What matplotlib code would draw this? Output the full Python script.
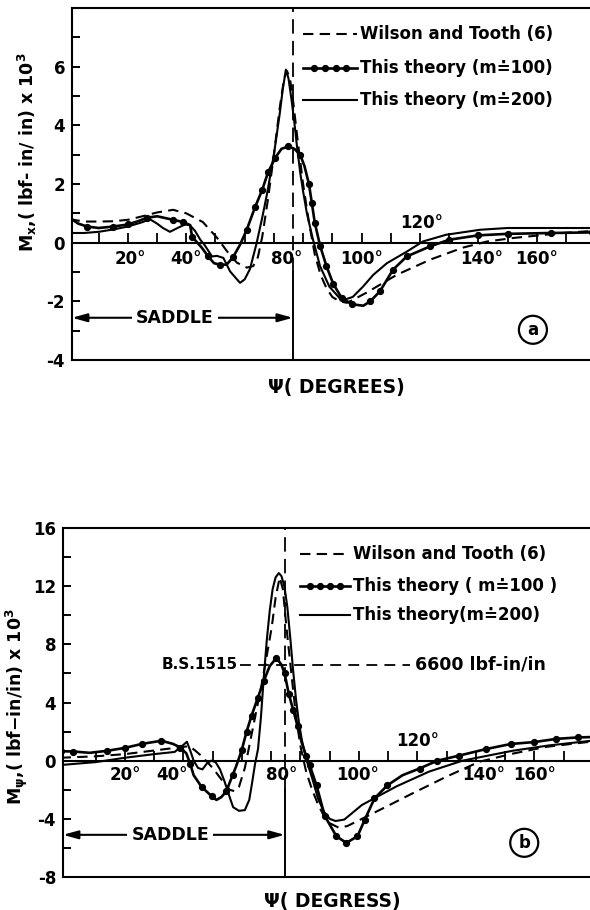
import matplotlib
matplotlib.use('Agg')
import matplotlib.pyplot as plt
import numpy as np

plt.rcParams['font.family'] = ['DejaVu Sans']
plt.rcParams['font.weight'] = 'bold'
plt.rcParams['mathtext.fontset'] = 'custom'
plt.rcParams['mathtext.rm'] = 'DejaVu Sans:bold'
plt.rcParams['mathtext.it'] = 'DejaVu Sans:bold'
plt.rcParams['mathtext.bf'] = 'DejaVu Sans:bold'
plt.rcParams['mathtext.sf'] = 'DejaVu Sans:bold'

# ---------------- data : panel (a)  Mx ----------------
a_psi_wt = [0, 5, 10, 15, 20, 25, 30, 35.5, 40, 45.7, 50.5, 54, 57.3, 60.7, 62.9, 64.5, 66, 68, 70,
            72, 73.5, 74.5, 75.5, 76.5, 78, 80, 82, 84, 86, 88, 90, 92.5, 95, 98, 101.8, 112, 123.5,
            134.7, 143, 152, 169, 179]
a_wt = [0.8, 0.72, 0.72, 0.73, 0.78, 0.9, 1.03, 1.12, 1.0, 0.7, 0.17, -0.3, -0.68, -0.85, -0.8, -0.5,
        0.2, 1.5, 3.0, 4.6, 5.6, 5.85, 5.6, 4.9, 3.6, 2.0, 0.7, -0.4, -1.1, -1.55, -1.85, -2.0, -2.05,
        -1.9, -1.7, -1.1, -0.58, -0.17, 0.04, 0.16, 0.33, 0.4]

a_psi_m100 = [0, 3, 6, 10, 15, 20, 24, 26.5, 30, 35.5, 39, 41.3, 42, 45.3, 47.5, 49.5, 51.5, 53.8, 56,
              58.4, 60.7, 63.5, 66, 68, 70.5, 72.6, 75, 77, 79, 80.5, 82, 83, 84, 85.8, 88, 90.3, 93.3,
              96.8, 100.6, 103, 106.3, 110.8, 115.5, 123.4, 130, 140, 150, 165, 179]
a_m100 = [0.85, 0.65, 0.55, 0.5, 0.55, 0.62, 0.75, 0.85, 0.9, 0.78, 0.7, 0.6, 0.2, -0.17, -0.47, -0.7,
          -0.75, -0.75, -0.5, -0.07, 0.44, 1.2, 1.8, 2.4, 2.9, 3.2, 3.28, 3.2, 3.0, 2.6, 2.0, 1.35,
          0.68, -0.1, -0.8, -1.4, -1.9, -2.1, -2.15, -2.0, -1.66, -0.92, -0.47, -0.13, 0.1, 0.25, 0.3,
          0.33, 0.35]

a_psi_m200 = [0, 5, 10, 15, 20, 25, 27.5, 30, 32, 34.4, 37, 39.5, 41.2, 43, 44.8, 46.4, 48.8, 50.5,
              52.7, 55, 58.4, 60, 61.8, 64, 66, 67.6, 70, 72, 73, 74.1, 75, 76, 77, 78, 79, 80, 81.3,
              83.4, 85.8, 89, 92.6, 94, 97, 100.5, 104, 108.7, 115.6, 121, 129, 140.6, 150, 165, 179]
a_m200 = [0.33, 0.33, 0.37, 0.45, 0.55, 0.7, 0.8, 0.65, 0.5, 0.37, 0.5, 0.62, 0.6, 0.4, 0.1, -0.1,
          -0.47, -0.45, -0.52, -0.98, -1.37, -1.25, -0.9, -0.05, 0.85, 1.64, 3.0, 4.4, 5.2, 5.9, 5.6,
          4.9, 4.1, 3.2, 2.4, 1.75, 1.0, 0.1, -0.8, -1.5, -1.9, -1.95, -1.85, -1.5, -1.1, -0.7, -0.3,
          0.04, 0.27, 0.44, 0.5, 0.5, 0.5]

# ---------------- data : panel (b)  Mpsi ----------------
b_psi_wt = [-2, 10, 20, 30, 38, 42, 44, 46.3, 50, 53.4, 55.8, 57.5, 59, 61, 63, 65, 67, 69, 70.2,
            71.5, 72.9, 74, 75.2, 77, 78.5, 80, 82, 84, 86, 88, 90, 93, 96, 100, 107, 118.3, 129.9,
            141.2, 152.5, 164, 179]
b_wt = [0.2, 0.3, 0.45, 0.7, 0.9, 1.0, 0.7, 0.3, -0.5, -1.4, -2.0, -2.1, -1.8, -0.5, 1.5, 3.5, 5.5,
        7.8, 9.2, 11.2, 12.6, 11.8, 9.2, 5.8, 3.0, 1.0, -0.8, -2.0, -3.0, -3.8, -4.3, -4.6, -4.5, -4.1,
        -3.4, -2.25, -1.1, -0.07, 0.48, 0.95, 1.3]

b_psi_m100 = [-2, 2.3, 8, 14, 20, 26, 32.5, 36.5, 39, 41, 42.3, 43.5, 46.2, 49.7, 51.3, 53, 54.7,
              56.8, 58, 59.9, 61.6, 63.3, 65.4, 67.5, 69.5, 71.8, 73.5, 74.6, 76, 77.5, 79, 80.5, 82,
              83.2, 85.5, 88.3, 92.3, 95.7, 99.5, 101.9, 105.3, 109.7, 114.9, 120.7, 126.8, 134.3,
              143.5, 152, 160, 167.5, 175, 179]
b_m100 = [0.65, 0.63, 0.54, 0.68, 0.88, 1.16, 1.37, 1.15, 0.9, 0.5, -0.2, -1.0, -1.8, -2.45, -2.7,
          -2.5, -2.1, -1.0, -0.4, 0.7, 2.0, 3.1, 4.3, 5.5, 6.5, 7.07, 6.6, 6.0, 4.6, 3.5, 2.4, 1.2,
          0.3, -0.33, -1.7, -3.8, -5.2, -5.65, -5.2, -4.1, -2.6, -1.7, -1.0, -0.54, 0.0, 0.35, 0.8,
          1.15, 1.28, 1.5, 1.6, 1.62]

b_psi_m200 = [-2, 10, 20, 30, 37, 39.5, 41.2, 42.5, 43.5, 45, 46.5, 48, 49.5, 51, 52.5, 54, 55.8, 57,
              59, 61, 62.5, 63.5, 64.5, 65.5, 66.5, 67.5, 68.5, 69.5, 70.5, 71.5, 72.6, 73.5, 74.5,
              75.5, 76.5, 77.5, 78.5, 79.5, 80.5, 82, 84, 86, 88, 90, 92, 95, 101, 112.8, 124, 135.4,
              152.5, 165, 179]
b_m200 = [-0.3, -0.1, 0.2, 0.45, 0.6, 1.0, 1.3, 0.6, 0.0, -0.5, -0.6, -0.2, 0.0, -0.1, -0.6, -1.4,
          -2.5, -3.2, -3.45, -3.4, -2.7, -1.5, -0.2, 0.8, 3.0, 5.8, 8.3, 10.3, 11.8, 12.6, 12.9, 12.7,
          12.0, 10.6, 8.5, 6.2, 4.2, 2.6, 1.4, 0.1, -1.2, -2.6, -3.5, -4.0, -4.15, -4.05, -3.05,
          -1.77, -0.75, 0.0, 0.68, 1.05, 1.36]

# ---------------- texts ----------------
legend_a = ['Wilson and Tooth (6)', 'This theory (m\u2250100)', 'This theory (m\u2250200)']
legend_b = ['Wilson and Tooth (6)', 'This theory ( m\u2250100 )', 'This theory(m\u2250200)']
deg_labels = ['20\u00b0', '40\u00b0', '80\u00b0', '100\u00b0', '120\u00b0', '140\u00b0', '160\u00b0']
a_yticks = [-4, -2, 0, 2, 4, 6]
b_yticks = [-8, -4, 0, 4, 8, 12, 16]
bs_value = 6.6   # B.S.1515 : 6600 lbf-in/in

fig = plt.figure(figsize=(5.9, 9.1), dpi=100)

FS = 12


def panel(ax, xlim, ylim, yticks, yminor, vline, vsolid_below, deg_pos, deg_y, deg_y120,
          psi_wt, wt, psi_m100, m100, psi_m200, m200, legend, leg_x, leg_y, saddle_y,
          saddle_x, circ_xy, circ_txt, mevery):
    ax.set_xlim(*xlim)
    ax.set_ylim(*ylim)
    ax.set_xticks([])
    ax.set_yticks(yticks)
    ax.set_yticks(yminor, minor=True)
    ax.set_yticklabels([str(t) for t in yticks], fontsize=FS, fontweight='bold')
    ax.tick_params(axis='y', which='both', direction='in', length=6, width=1.4, pad=5)
    for s in ['left', 'top', 'bottom']:
        ax.spines[s].set_linewidth(1.5)
    ax.spines['right'].set_visible(False)

    # zero axis with degree ticks
    frac = (0 - ylim[0]) / (ylim[1] - ylim[0])
    sec = ax.secondary_xaxis(frac)
    sec.set_xticks(np.arange(10, 180, 10))
    sec.tick_params(direction='in', length=7, width=1.3, labelbottom=False)
    sec.spines['bottom'].set_linewidth(1.5)
    for lab, xp in zip(deg_labels, deg_pos):
        yy = deg_y120 if lab.startswith('120') else deg_y
        ax.text(xp, yy, lab, ha='center', va='center', fontsize=FS, fontweight='bold', zorder=6)

    # vertical reference line (saddle horn)
    ax.plot([vline, vline], [vsolid_below, ylim[1]], color='k', lw=1.3, ls=(0, (8, 4)), zorder=2)
    ax.plot([vline, vline], [ylim[0], vsolid_below], color='k', lw=1.4, zorder=2)

    # curves
    ax.plot(psi_wt, wt, color='k', lw=1.5, ls=(0, (5, 3)), zorder=3)
    ax.plot(psi_m100, m100, color='k', lw=1.9, marker='o', ms=4.2, markevery=mevery, zorder=4)
    ax.plot(psi_m200, m200, color='k', lw=1.5, zorder=4)

    # legend (drawn inside the plot like the original)
    x0, x1 = leg_x
    ax.plot([x0, x1], [leg_y[0]] * 2, color='k', lw=1.5, ls=(0, (5, 3)))
    ax.plot(np.linspace(x0, x1, 6), [leg_y[1]] * 6, color='k', lw=1.9, marker='o', ms=4.2,
            markevery=[1, 2, 3, 4])
    ax.plot([x0, x1], [leg_y[2]] * 2, color='k', lw=1.5)
    for t, yy in zip(legend, leg_y):
        ax.text(x1 + 1, yy, t, ha='left', va='center', fontsize=12, fontweight='bold')

    # saddle arrow
    ax.annotate('', xy=(xlim[0], saddle_y), xytext=(vline, saddle_y),
                arrowprops=dict(arrowstyle='<|-|>,head_length=0.9,head_width=0.25', lw=1.5,
                                color='k', shrinkA=0, shrinkB=0))
    ax.text(saddle_x, saddle_y, 'SADDLE', ha='center', va='center', fontsize=12.5,
            fontweight='bold', bbox=dict(fc='white', ec='none', pad=3))

    ax.text(circ_xy[0], circ_xy[1], circ_txt, ha='center', va='center', fontsize=12,
            fontweight='bold',
            bbox=dict(boxstyle='circle,pad=0.3', fc='white', ec='k', lw=1.6))


axA = fig.add_axes([72 / 590, 1 - 360 / 910, 518 / 590, 352 / 910])
panel(axA, (0.86, 178.25), (-4, 8), a_yticks, [-3, -1, 1, 3, 5, 7], 76.5, -1.0,
      [21, 40, 74.3, 100, 120.5, 141, 160], -0.55, 0.68,
      a_psi_wt, a_wt, a_psi_m100, a_m100, a_psi_m200, a_m200,
      legend_a, (80, 98.5), (7.1, 5.97, 4.88), -2.56, 36, (158.7, -2.97), 'a', 0.032)

axB = fig.add_axes([63 / 590, 1 - 877 / 910, 527 / 590, 349 / 910])
panel(axB, (-1.16, 178.98), (-8, 16), b_yticks, [-6, -2, 2, 6, 10, 14], 74.6, -2.0,
      [20, 36, 73.6, 99.5, 120, 142.5, 160], -1.0, 1.35,
      b_psi_wt, b_wt, b_psi_m100, b_m100, b_psi_m200, b_m200,
      legend_b, (79.7, 96.8), (14.2, 12.0, 10.0), -5.1, 35.5, (156.5, -5.65), 'b', 0.032)

# B.S.1515 line
axB.plot([59.5, 117.5], [bs_value, bs_value], color='k', lw=1.3, ls=(0, (6, 4)), zorder=5)
axB.text(58.5, bs_value, 'B.S.1515', ha='right', va='center', fontsize=11, fontweight='bold')
axB.text(119, bs_value, '6600 lbf-in/in', ha='left', va='center', fontsize=12.5,
         fontweight='bold')

# axis titles
fig.text(27 / 590, 1 - 152 / 910, r'M$_{x}$,( lbf- in/ in) x 10$^{3}$', rotation=90,
         ha='center', va='center', fontsize=12.5, fontweight='bold')
fig.text(17 / 590, 1 - 707 / 910, r'M$_{\psi}$,( lbf$-$in/in) x 10$^{3}$', rotation=90,
         ha='center', va='center', fontsize=12.5, fontweight='bold')
fig.text(336 / 590, 1 - 387 / 910, '\u03a8( DEGREES)', ha='center', va='center', fontsize=13.5,
         fontweight='bold')
fig.text(332 / 590, 1 - 902 / 910, '\u03a8( DEGRESS)', ha='center', va='center', fontsize=13.5,
         fontweight='bold')

fig.savefig('out.png', dpi=100)
